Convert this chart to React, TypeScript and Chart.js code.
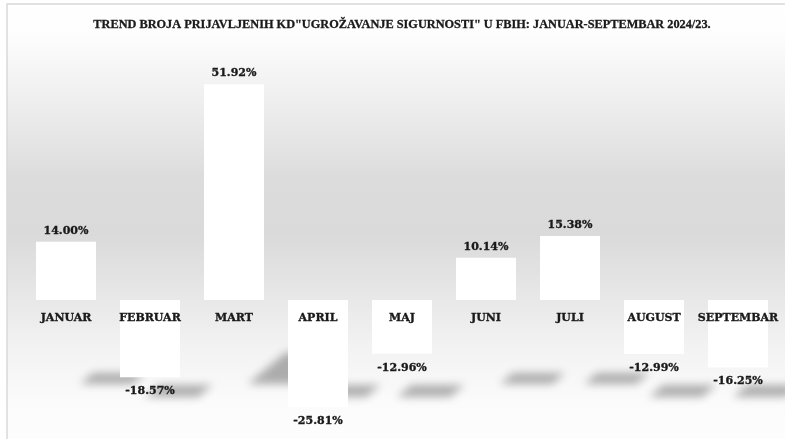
import React, { useEffect, useRef } from "react";
import { Chart, registerables } from "chart.js";

Chart.register(...registerables);

const TITLE = 'TREND BROJA PRIJAVLJENIH KD"UGROŽAVANJE SIGURNOSTI" U FBIH: JANUAR-SEPTEMBAR 2024/23.';
const MONTHS = ["JANUAR", "FEBRUAR", "MART", "APRIL", "MAJ", "JUNI", "JULI", "AUGUST", "SEPTEMBAR"];
const TREND = [14.0, -18.57, 51.92, -25.81, -12.96, 10.14, 15.38, -12.99, -16.25];
const Y_MIN = -30;
const Y_MAX = 60;

const W = 785;
const H = 439;
const TEXT_COLOR = "#1a1a1a";
const LABEL_FONT = "bold 11px 'DejaVu Serif', serif";

const backgroundPlugin = {
  id: "bgPanel",
  beforeDraw(chart: any) {
    const ctx = chart.ctx;
    ctx.save();
    ctx.fillStyle = "#ffffff";
    ctx.fillRect(0, 0, chart.width, chart.height);
    const g = ctx.createLinearGradient(0, 4, 0, 438);
    g.addColorStop(0, "#ffffff");
    g.addColorStop(0.07, "#fdfdfd");
    g.addColorStop(0.25, "#ececec");
    g.addColorStop(0.4, "#dcdcdc");
    g.addColorStop(0.53, "#dadada");
    g.addColorStop(0.68, "#e8e8e8");
    g.addColorStop(0.8, "#f3f3f3");
    g.addColorStop(0.92, "#fbfbfb");
    g.addColorStop(1, "#fdfdfd");
    ctx.fillStyle = g;
    ctx.fillRect(7, 4, chart.width - 7, chart.height);
    ctx.strokeStyle = "#d9d9d9";
    ctx.lineWidth = 1.5;
    ctx.strokeRect(7, 4, chart.width + 10, chart.height + 10);
    ctx.restore();
  },
};

const shadowPlugin = {
  id: "barShadows",
  beforeDatasetsDraw(chart: any) {
    const ctx = chart.ctx;
    const zero = chart.scales.y.getPixelForValue(0);
    const meta = chart.getDatasetMeta(0);
    const off = 3000;
    ctx.save();
    ctx.shadowColor = "rgba(0,0,0,0.3)";
    ctx.shadowBlur = 8;
    ctx.shadowOffsetX = off;
    ctx.shadowOffsetY = 0;
    ctx.fillStyle = "#000";
    meta.data.forEach((bar: any, i: number) => {
      const v = TREND[i];
      const left = bar.x - bar.width / 2 - off;
      let bottom: number, h: number, x0: number, len: number;
      if (v >= 0) {
        bottom = zero + 84;
        h = Math.max(11, Math.abs(v) * 0.6);
        x0 = left + 44;
        len = 52;
      } else {
        bottom = zero + 97;
        h = 12;
        x0 = left + 25;
        len = 53;
      }
      const shift = h * 1.2;
      ctx.beginPath();
      ctx.moveTo(x0, bottom);
      ctx.lineTo(x0 + len, bottom);
      ctx.lineTo(x0 + len + shift, bottom - h);
      ctx.lineTo(x0 + shift, bottom - h);
      ctx.closePath();
      ctx.fill();
    });
    ctx.restore();
  },
};

function boldText(ctx: any, txt: string, x: number, y: number) {
  ctx.fillText(txt, x, y);
  ctx.strokeText(txt, x, y);
}

const labelPlugin = {
  id: "labels",
  afterDatasetsDraw(chart: any) {
    const ctx = chart.ctx;
    const xs = chart.scales.x;
    const zero = chart.scales.y.getPixelForValue(0);
    const meta = chart.getDatasetMeta(0);
    ctx.save();
    ctx.fillStyle = TEXT_COLOR;
    ctx.strokeStyle = TEXT_COLOR;
    ctx.lineWidth = 0.35;
    ctx.font = LABEL_FONT;
    ctx.textAlign = "center";
    ctx.textBaseline = "middle";
    MONTHS.forEach((m, i) => {
      boldText(ctx, m, xs.getPixelForValue(i), zero + 18);
    });
    meta.data.forEach((bar: any, i: number) => {
      const v = TREND[i];
      const txt = v.toFixed(2) + "%";
      const y = v >= 0 ? bar.y - 11 : bar.y + 14;
      boldText(ctx, txt, bar.x, y);
    });
    ctx.font = "bold 12.3px 'Liberation Serif', serif";
    ctx.lineWidth = 0.3;
    boldText(ctx, TITLE, 402, 25);
    ctx.restore();
  },
};

export default function App() {
  const ref = useRef<HTMLCanvasElement | null>(null);
  useEffect(() => {
    document.body.style.margin = "0";
    const canvas = ref.current!;
    const chart = new Chart(canvas, {
      type: "bar",
      data: {
        labels: MONTHS,
        datasets: [
          {
            data: TREND,
            backgroundColor: "#ffffff",
            borderWidth: 0,
            barPercentage: 60 / 84,
            categoryPercentage: 1,
          },
        ],
      },
      options: {
        responsive: false,
        animation: false,
        events: [],
        layout: { padding: { top: 50.7, bottom: 14.35, left: 24, right: 5 } },
        plugins: {
          legend: { display: false },
          title: { display: false },
          tooltip: { enabled: false },
        },
        scales: {
          x: { display: false },
          y: { display: false, min: Y_MIN, max: Y_MAX },
        },
      },
      plugins: [backgroundPlugin, shadowPlugin, labelPlugin],
    });
    return () => chart.destroy();
  }, []);
  return (
    <div style={{ width: W, height: H }}>
      <canvas ref={ref} width={W} height={H} style={{ display: "block" }} />
    </div>
  );
}
